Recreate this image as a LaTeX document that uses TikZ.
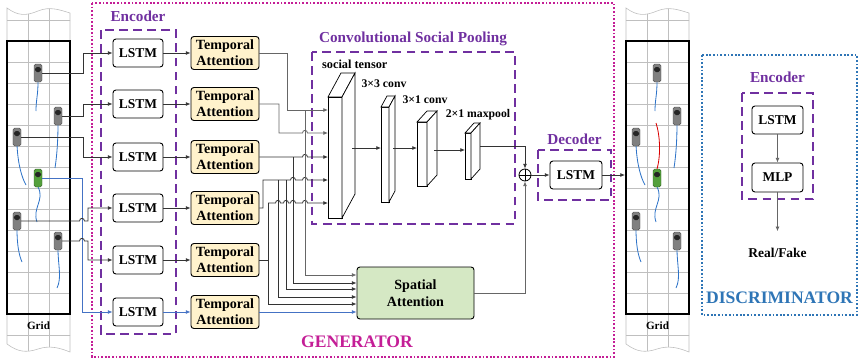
\documentclass[tikz,border=0pt]{standalone}
\usepackage{fontspec}
\setmainfont{Liberation Serif}
\usetikzlibrary{arrows.meta,calc}

\definecolor{encpurple}{RGB}{112,48,160}
\definecolor{genmagenta}{RGB}{196,30,150}
\definecolor{discblue}{RGB}{46,117,182}
\definecolor{wireblue}{RGB}{68,114,196}
\definecolor{trailblue}{RGB}{45,115,200}
\definecolor{tafill}{RGB}{255,242,204}
\definecolor{safill}{RGB}{213,232,196}
\definecolor{cargreen}{RGB}{84,160,60}

% little bridge where a wire jumps over a vertical one
\newcommand{\hop}[2]{-- (#1-2.5,#2) .. controls (#1-2.5,#2-3.5) and (#1+2.5,#2-3.5) .. (#1+2.5,#2)}

% road strip with lanes, grid and vehicles; #1 = name prefix
\newcommand{\roadstrip}[1]{%
  \begin{scope}
    \clip (7,8) .. controls (18,16) and (26,16) .. (38,11) .. controls (50,6) and (60,10) .. (70,13)
      -- (70,352) .. controls (60,348) and (50,345) .. (38,349) .. controls (26,353) and (18,352) .. (7,344) -- cycle;
    \foreach \y in {20,41,...,335} \draw[lane] (0,\y) -- (80,\y);
    \foreach \x in {28,49} \draw[lane] (\x,0) -- (\x,360);
  \end{scope}
  \draw[lane] (7,8) .. controls (18,16) and (26,16) .. (38,11) .. controls (50,6) and (60,10) .. (70,13)
      -- (70,352) .. controls (60,348) and (50,345) .. (38,349) .. controls (26,353) and (18,352) .. (7,344) -- cycle;
  \draw[line width=1.4pt] (7,41) rectangle (70,314);
  \node[font=\fontsize{9.5}{10}\selectfont\bfseries] (#1grid) at (38.5,326) {Grid};
  % trajectories
  \draw[trail] (38,82) .. controls (38,95) and (36,100) .. (36,111);
  \draw[trail] (58,124) .. controls (58,140) and (57,155) .. (55,168);
  \draw[trail] (17,145) .. controls (18,165) and (22,178) .. (26,185);
  \draw[trail] (38,187) .. controls (45,200) and (32,208) .. (37,222);
  \draw[trail] (17,229) .. controls (17,245) and (19,255) .. (22,262);
  \draw[trail] (58,249) .. controls (58,265) and (62,278) .. (57,288);
  % vehicles
  \node[car] (#1car1) at (38,73) {};
  \node[car] (#1car2) at (58,116) {};
  \node[car] (#1car3) at (17,137) {};
  \node[car,fill=cargreen,draw=cargreen!60!black] (#1car4) at (38,178) {};
  \node[car] (#1car5) at (17,221) {};
  \node[car] (#1car6) at (58,241) {};
}

% front face plus top and right face of a feature map
\newcommand{\layerdepth}[3]{%
  \draw[fill=white,line width=0.6pt] (#1.north west) -- ++(#2,#3) -- ($(#1.north east)+(#2,#3)$) -- (#1.north east) -- cycle;
  \draw[fill=white,line width=0.6pt] (#1.north east) -- ++(#2,#3) -- ($(#1.south east)+(#2,#3)$) -- (#1.south east) -- cycle;
}

\begin{document}
\begin{tikzpicture}[x=0.03cm,y=-0.03cm,>={Latex[length=4pt,width=3.4pt]},
  lane/.style={draw=black!25,line width=0.5pt},
  trail/.style={draw=trailblue,line width=0.7pt},
  car/.style={draw=black!70,fill=black!50,rounded corners=1.5pt,minimum width=0.24cm,minimum height=0.54cm,inner sep=0pt,
    path picture={\fill[black!85] ($(path picture bounding box.north west)+(1,3)$) rectangle ($(path picture bounding box.north east)+(-1,8)$);}},
  lstm/.style={draw,rounded corners=2.5pt,line width=0.8pt,fill=white,minimum width=1.5cm,minimum height=0.84cm,
    inner sep=0pt,font=\fontsize{11.5}{12}\selectfont\bfseries},
  tatt/.style={lstm,fill=tafill,minimum width=2.04cm,minimum height=0.99cm,align=center,font=\fontsize{12}{13.5}\selectfont\bfseries},
  layer/.style={draw,fill=white,line width=0.6pt,inner sep=0pt,outer sep=0pt},
  small/.style={font=\fontsize{10}{11}\selectfont\bfseries},
  link/.style={draw=black!80,line width=0.7pt},
  wire/.style={draw=black!60,line width=0.7pt},
  bluelink/.style={draw=wireblue,line width=0.7pt},
  encbox/.style={draw=encpurple,line width=1.6pt,dash pattern=on 7.5pt off 4.5pt},
  enclabel/.style={text=encpurple,font=\fontsize{13}{14}\selectfont\bfseries},
  genbox/.style={draw=genmagenta,line width=1.6pt,dash pattern=on 1.5pt off 1.6pt},
  discbox/.style={genbox,draw=discblue}]
\useasboundingbox (0,0) rectangle (864,360);

% input and output scenes
\roadstrip{l}
\begin{scope}[shift={(619,0)}]
  \roadstrip{r}
  \draw[draw=red!85!black,line width=0.7pt] (38,169) .. controls (42,155) and (41,135) .. (37,123);
\end{scope}

% generator
\draw[genbox] (92,3) rectangle (614,357);
\node[text=genmagenta,font=\fontsize{15}{16}\selectfont\bfseries] (gen) at (357,342) {GENERATOR};

\draw[encbox] (101,30) rectangle (176,334);
\node[enclabel] (enc) at (138,16) {Encoder};
\foreach \i/\y in {1/53,2/104,3/157,4/208,5/260,6/312} {
  \node[lstm] (lstm\i) at (138,\y) {LSTM};
  \node[tatt] (ta\i) at (225,\y) {Temporal\\Attention};
}
\foreach \i in {1,...,5} \draw[link,->] (lstm\i) -- (ta\i);
\draw[bluelink,->] (lstm6) -- (ta6);

% vehicles to encoder
\draw[link,->] (lcar1.east) -- (83,73) |- (lstm1);
\draw[link,->] (lcar2.east) -- (83,116) |- (lstm2);
\draw[link,->] (lcar3.east) -- (83,137) |- (lstm3);
\draw[bluelink,->] (lcar4.east) -- (82,178) |- (lstm6);
\draw[link,->] (lcar5.east) \hop{82}{221} -- (88,221) |- (lstm4);
\draw[link,->] (lcar6.east) \hop{82}{241} -- (88,241) |- (lstm5);

% convolutional social pooling
\draw[encbox] (312,52) rectangle (515,224);
\node[enclabel] (csp) at (413,39) {Convolutional Social Pooling};
\node[layer,minimum width=0.42cm,minimum height=3.63cm] (tensor) at (335,157.5) {};
\layerdepth{tensor}{13}{-24}
\node[layer,minimum width=0.24cm,minimum height=2.85cm] (conv1) at (385,154.5) {};
\layerdepth{conv1}{6}{-11}
\node[layer,minimum width=0.30cm,minimum height=1.92cm] (conv2) at (422,154) {};
\layerdepth{conv2}{10}{-11}
\node[layer,minimum width=0.18cm,minimum height=1.38cm] (pool) at (468,156) {};
\layerdepth{pool}{9}{-10}
\node[small,anchor=west,font=\fontsize{10.5}{11}\selectfont\bfseries] (stlabel) at (318,64) {social tensor};
\node[small] (c1label) at (384,84) {3×3 conv};
\node[small] (c2label) at (425,100) {3×1 conv};
\node[small] (plabel) at (478,115) {2×1 maxpool};
\draw[link,->] ($(tensor.east)+(10,-9.5)$) -- (conv1.west |- 0,148);
\draw[link,->] ($(conv1.east)+(4,-6.5)$) -- (conv2.west |- 0,148);
\draw[link,->] ($(conv2.east)+(7,-4)$) -- (pool.west |- 0,150);

% temporal attention outputs
\draw[wire,->] (ta1.east) -| (287,110) -- (tensor.west |- 0,110);
\draw[wire,->] (ta2.east) -| (279,133) \hop{305}{133} -- (tensor.west |- 0,133);
\draw[link,->] (ta3.east) \hop{305}{157} -- (tensor.west |- 0,157);
\draw[link,->] (ta4.east) -| (263,180) \hop{293}{180} \hop{305}{180} -- (tensor.west |- 0,180);
\draw[link] (ta5.east) -- (268,260);
\draw[link,->] (268,203) \hop{278}{203} \hop{286}{203} \hop{293}{203} \hop{305}{203} -- (tensor.west |- 0,203);

% spatial attention
\node[lstm,fill=safill,minimum width=3.51cm,minimum height=1.56cm,align=center,font=\fontsize{12}{15}\selectfont\bfseries] (sa) at (415.5,293) {Spatial\\Attention};
\draw[wire,->] (305,110) |- (sa.west |- 0,275);
\draw[link,->] (293,157) |- (sa.west |- 0,283);
\draw[link,->] (286,180) |- (sa.west |- 0,289);
\draw[link,->] (278,180) |- (sa.west |- 0,297);
\draw[link,->] (268,203) |- (sa.west |- 0,304);
\draw[bluelink,->] (ta6.east) -- (sa.west |- 0,312);

% fusion and decoder
\node[draw,circle,line width=0.7pt,minimum size=0.36cm,inner sep=0pt,fill=white,
  path picture={\draw[line width=0.7pt] (path picture bounding box.north) -- (path picture bounding box.south)
    (path picture bounding box.west) -- (path picture bounding box.east);}] (oplus) at (525,175) {};
\draw[link,->] ($(pool.east)+(9,-10)$) -| (oplus.north);
\draw[wire,->] (sa.east) -| (oplus.south);
\draw[encbox] (538,150) rectangle (611,200);
\node[enclabel] (declabel) at (574.5,139) {Decoder};
\node[lstm,minimum width=1.56cm] (dec) at (576,175) {LSTM};
\draw[link,->] (oplus) -- (dec);
\coordinate (rstrip) at (625,175);
\draw[link,->] (dec) -- (rstrip);

% discriminator
\draw[discbox] (702,55) rectangle (857,315);
\node[text=discblue,font=\fontsize{15}{16}\selectfont\bfseries] (disc) at (779.5,298) {DISCRIMINATOR};
\draw[encbox] (742,93) rectangle (813,199);
\node[enclabel] (denc) at (777.5,77) {Encoder};
\node[lstm,minimum width=1.53cm] (dlstm) at (777.5,120) {LSTM};
\node[lstm,minimum width=1.53cm,minimum height=0.87cm] (mlp) at (777.5,177.5) {MLP};
\node[font=\fontsize{11.5}{12}\selectfont\bfseries] (rf) at (777.5,253) {Real/Fake};
\draw[wire,->] (dlstm) -- (mlp);
\draw[wire,->,shorten >=11pt] (mlp) -- (rf);
\end{tikzpicture}
\end{document}
